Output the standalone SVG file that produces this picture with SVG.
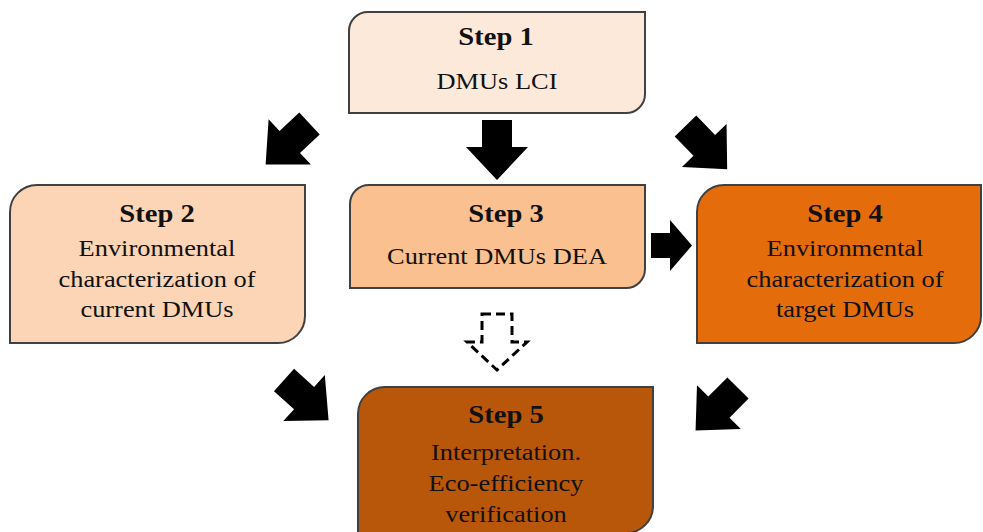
<svg xmlns="http://www.w3.org/2000/svg" xmlns:xlink="http://www.w3.org/1999/xlink" width="983" height="532" viewBox="0 0 983 532">
  <defs>
    <style>
      .box { stroke: #404040; stroke-width: 2; }
      .head { font-family: "Liberation Serif", "Times New Roman", serif; font-weight: bold; font-size: 26px; fill: #111; text-anchor: middle; }
      .body { font-family: "Liberation Serif", "Times New Roman", serif; font-size: 24px; fill: #111; text-anchor: middle; }
      .arrow { fill: #000; }
      .dashed { fill: #fff; stroke: #000; stroke-width: 3; stroke-dasharray: 9 5; }
    </style>
    <!-- block arrow pointing right, base centre at origin -->
    <path id="blk" d="M0,-15 H27 V-31 L60,0 L27,31 V15 H0 Z"/>
  </defs>
  <rect width="983" height="532" fill="#fff"/>

  <!-- connectors -->
  <g id="connectors">
    <use xlink:href="#blk" class="arrow" transform="translate(497,120) rotate(90)"/>
    <use xlink:href="#blk" class="arrow" transform="translate(309.5,123.5) rotate(137)"/>
    <use xlink:href="#blk" class="arrow" transform="translate(685.5,126) rotate(46)"/>
    <use xlink:href="#blk" class="arrow" transform="translate(284,380) rotate(42)"/>
    <use xlink:href="#blk" class="arrow" transform="translate(738,388) rotate(135)"/>
    <path class="arrow" d="M651,233 H670 V220 L692,245.5 L670,271 V258 H651 Z"/>
    <path class="dashed" d="M482,314 H512 V342 H527 L497,370 L467,342 H482 Z"/>
  </g>

  <g id="step1">
    <path class="box" fill="#FDE9D9" d="M349,31 A19,19 0 0 1 368,12 H645 V94 A19,19 0 0 1 626,113 H349 Z"/>
    <text class="head" transform="translate(496,45) scale(1.1,1)">Step 1</text>
    <text class="body" transform="translate(497,89) scale(1.1,1)">DMUs LCI</text>
  </g>

  <g id="step2">
    <path class="box" fill="#FBD5B5" d="M10,212 A27,27 0 0 1 37,185 H305 V316 A27,27 0 0 1 278,343 H10 Z"/>
    <text class="head" transform="translate(157,222) scale(1.1,1)">Step 2</text>
    <text class="body" transform="translate(157,256) scale(1.1,1)">Environmental</text>
    <text class="body" transform="translate(157,287) scale(1.1,1)">characterization of</text>
    <text class="body" transform="translate(157,317) scale(1.1,1)">current DMUs</text>
  </g>

  <g id="step3">
    <path class="box" fill="#FAC090" d="M350,204 A19,19 0 0 1 369,185 H645 V269 A19,19 0 0 1 626,288 H350 Z"/>
    <text class="head" transform="translate(506,222) scale(1.1,1)">Step 3</text>
    <text class="body" transform="translate(497,264) scale(1.1,1)">Current DMUs DEA</text>
  </g>

  <g id="step4">
    <path class="box" fill="#E46C0A" d="M697,212 A27,27 0 0 1 724,185 H981 V316 A27,27 0 0 1 954,343 H697 Z"/>
    <text class="head" transform="translate(845,222) scale(1.1,1)">Step 4</text>
    <text class="body" transform="translate(845,256) scale(1.1,1)">Environmental</text>
    <text class="body" transform="translate(845,287) scale(1.1,1)">characterization of</text>
    <text class="body" transform="translate(845,317) scale(1.1,1)">target DMUs</text>
  </g>

  <g id="step5">
    <path class="box" fill="#B8560A" d="M358,414 A27,27 0 0 1 385,387 H653 V506 A27,27 0 0 1 626,533 H358 Z"/>
    <text class="head" transform="translate(506,423) scale(1.1,1)">Step 5</text>
    <text class="body" transform="translate(506,460) scale(1.1,1)">Interpretation.</text>
    <text class="body" transform="translate(506,491) scale(1.1,1)">Eco-efficiency</text>
    <text class="body" transform="translate(506,522) scale(1.1,1)">verification</text>
  </g>
</svg>
